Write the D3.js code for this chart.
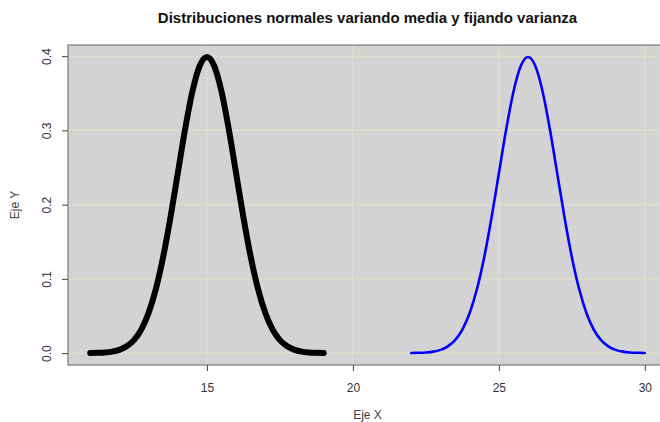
<!DOCTYPE html>
<html>
<head>
<meta charset="utf-8">
<script src="https://cdn.jsdelivr.net/npm/d3@7"></script>
<style>
  body { margin: 0; background: #fff; }
  svg { display: block; font-family: "Liberation Sans", Arial, sans-serif; }
</style>
</head>
<body>
<svg id="chart" width="660" height="422"></svg>
<script>
// values (density of the two curves)
var xBlack = [11, 11.25, 11.5, 11.75, 12, 12.25, 12.5, 12.75, 13, 13.25, 13.5, 13.75, 14, 14.25, 14.5, 14.75,
              15, 15.25, 15.5, 15.75, 16, 16.25, 16.5, 16.75, 17, 17.25, 17.5, 17.75, 18, 18.25, 18.5, 18.75, 19];
var xBlue = [22, 22.25, 22.5, 22.75, 23, 23.25, 23.5, 23.75, 24, 24.25, 24.5, 24.75, 25, 25.25, 25.5, 25.75,
             26, 26.25, 26.5, 26.75, 27, 27.25, 27.5, 27.75, 28, 28.25, 28.5, 28.75, 29, 29.25, 29.5, 29.75, 30];
var yDensity = [0.0001, 0.0004, 0.0009, 0.0020, 0.0044, 0.0091, 0.0175, 0.0317, 0.0540, 0.0863, 0.1295, 0.1826,
                0.2420, 0.3011, 0.3521, 0.3867, 0.3989, 0.3867, 0.3521, 0.3011, 0.2420, 0.1826, 0.1295, 0.0863,
                0.0540, 0.0317, 0.0175, 0.0091, 0.0044, 0.0020, 0.0009, 0.0004, 0.0001];
var xTicks = [15, 20, 25, 30];
var yTicks = [0, 0.1, 0.2, 0.3, 0.4];

(function () {
    var svg = d3.select("#chart");
    var plotLeft = 68, plotRight = 667, plotTop = 45, plotBottom = 365;

    var x = d3.scaleLinear().domain([10.24, 30.76]).range([plotLeft, plotRight]);
    var y = d3.scaleLinear().domain([-0.016, 0.415]).range([plotBottom, plotTop]);

    // plot background
    svg.append("rect")
        .attr("x", plotLeft).attr("y", plotTop)
        .attr("width", plotRight - plotLeft).attr("height", plotBottom - plotTop)
        .attr("fill", "#d3d3d3");

    // grid
    svg.append("g").selectAll("line").data(xTicks).enter().append("line")
        .attr("x1", function(d) { return x(d); }).attr("x2", function(d) { return x(d); })
        .attr("y1", plotTop).attr("y2", plotBottom)
        .attr("stroke", "#ebe5c8").attr("stroke-width", 1).attr("stroke-dasharray", "3,1");
    svg.append("g").selectAll("line").data(yTicks).enter().append("line")
        .attr("x1", plotLeft).attr("x2", plotRight)
        .attr("y1", function(d) { return y(d); }).attr("y2", function(d) { return y(d); })
        .attr("stroke", "#ebe5c8").attr("stroke-width", 1).attr("stroke-dasharray", "3,1");

    var line = d3.line().curve(d3.curveMonotoneX);

    svg.append("path")
        .attr("d", line(xBlack.map(function(d, i) { return [x(d), y(yDensity[i])]; })))
        .attr("fill", "none").attr("stroke", "#000").attr("stroke-width", 6)
        .attr("stroke-linecap", "round").attr("stroke-linejoin", "round");

    svg.append("path")
        .attr("d", line(xBlue.map(function(d, i) { return [x(d), y(yDensity[i])]; })))
        .attr("fill", "none").attr("stroke", "#0000ff").attr("stroke-width", 2.6)
        .attr("stroke-linecap", "round");

    // box
    svg.append("rect")
        .attr("x", plotLeft).attr("y", plotTop)
        .attr("width", plotRight - plotLeft).attr("height", plotBottom - plotTop)
        .attr("fill", "none").attr("stroke", "#7a7a7a").attr("stroke-width", 1.2);

    // axes
    var xAxis = d3.axisBottom(x).tickValues(xTicks).tickSize(6).tickPadding(12).tickFormat(d3.format("d"));
    var gx = svg.append("g").attr("transform", "translate(0," + plotBottom + ")").call(xAxis);
    gx.select(".domain").remove();
    gx.selectAll("line").attr("stroke", "#444");
    gx.selectAll("text").attr("fill", "#333").attr("font-size", "12px");

    var yAxis = d3.axisLeft(y).tickValues(yTicks).tickSize(6).tickFormat(d3.format(".1f"));
    var gy = svg.append("g").attr("transform", "translate(" + plotLeft + ",0)").call(yAxis);
    gy.select(".domain").remove();
    gy.selectAll("line").attr("stroke", "#444");
    gy.selectAll("text")
        .attr("fill", "#333").attr("font-size", "12px")
        .attr("x", 0).attr("y", 0).attr("dy", null)
        .attr("transform", "translate(-17,0) rotate(-90)")
        .style("text-anchor", "middle");

    // labels
    svg.append("text")
        .attr("x", (plotLeft + plotRight) / 2).attr("y", 23)
        .attr("text-anchor", "middle").attr("font-weight", "bold").attr("font-size", "15px")
        .attr("fill", "#111")
        .text("Distribuciones normales variando media y fijando varianza");
    svg.append("text")
        .attr("x", (plotLeft + plotRight) / 2).attr("y", 419)
        .attr("text-anchor", "middle").attr("font-size", "12px").attr("fill", "#444")
        .text("Eje X");
    svg.append("text")
        .attr("transform", "translate(19," + ((plotTop + plotBottom) / 2) + ") rotate(-90)")
        .attr("text-anchor", "middle").attr("font-size", "12px").attr("fill", "#444")
        .text("Eje Y");
})();
</script>
</body>
</html>
